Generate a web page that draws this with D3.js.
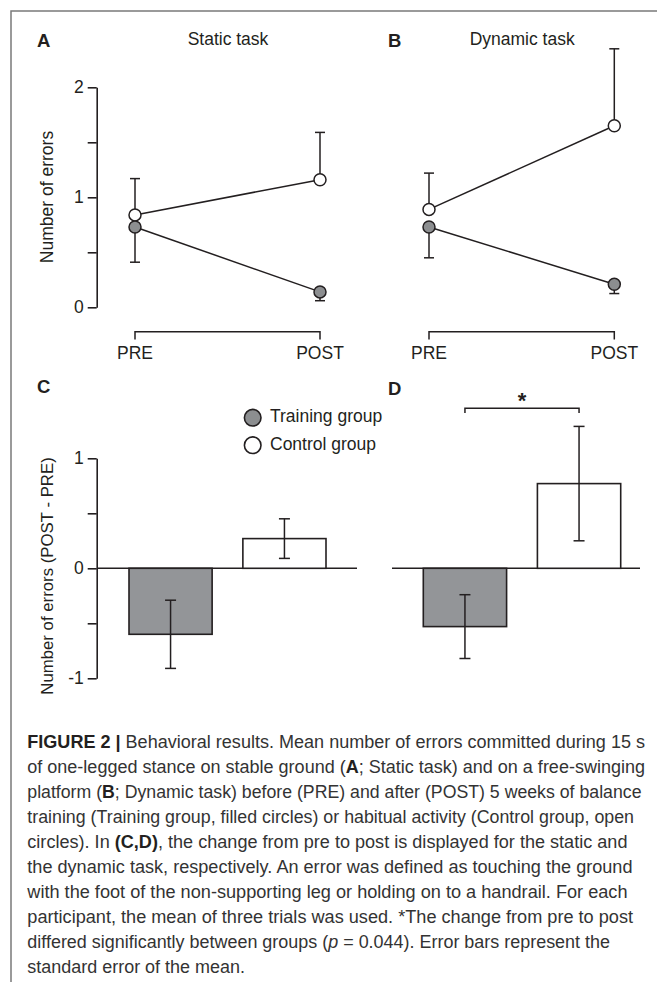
<!DOCTYPE html>
<html>
<head>
<meta charset="utf-8">
<script src="https://cdnjs.cloudflare.com/ajax/libs/d3/7.8.5/d3.min.js"></script>
<style>
    body { margin: 0; background: #fff; }
    svg text { font-family: "Liberation Sans", Arial, Helvetica, sans-serif; }
</style>
</head>
<body>
<div id="chart"></div>
<script>
var phases = ["PRE", "POST"];
var groups = ["Training group", "Control group"];

// Panel A, static task (mean and SE per phase)
var staticTraining = [0.73, 0.14];
var staticTrainingSE = [0.32, 0.08];
var staticControl = [0.84, 1.16];
var staticControlSE = [0.33, 0.43];

// Panel B, dynamic task
var dynamicTraining = [0.73, 0.21];
var dynamicTrainingSE = [0.28, 0.085];
var dynamicControl = [0.89, 1.65];
var dynamicControlSE = [0.33, 0.70];

// Panels C and D, change POST - PRE (training, control)
var changeStatic = [-0.60, 0.27];
var changeStaticSE = [0.31, 0.18];
var changeDynamic = [-0.53, 0.77];
var changeDynamicSE = [0.29, 0.52];

var topTicks = [0, 0.5, 1, 1.5, 2];
var bottomTicks = [-1, -0.5, 0, 0.5, 1];

var captionLines = [
    [["FIGURE 2 |", "b"], [" Behavioral results. Mean number of errors committed during 15 s", ""]],
    [["of one-legged stance on stable ground (", ""], ["A", "b"], ["; Static task) and on a free-swinging", ""]],
    [["platform (", ""], ["B", "b"], ["; Dynamic task) before (PRE) and after (POST) 5 weeks of balance", ""]],
    [["training (Training group, filled circles) or habitual activity (Control group, open", ""]],
    [["circles). In ", ""], ["(C,D)", "b"], [", the change from pre to post is displayed for the static and", ""]],
    [["the dynamic task, respectively. An error was defined as touching the ground", ""]],
    [["with the foot of the non-supporting leg or holding on to a handrail. For each", ""]],
    [["participant, the mean of three trials was used. *The change from pre to post", ""]],
    [["differed significantly between groups (", ""], ["p", "i"], [" = 0.044). Error bars represent the", ""]],
    [["standard error of the mean.", ""]]
];
var captionEnds = [645, 645, 641.5, 634, 627.5, 632.5, 627.5, 633, 610, 245];

var width = 657;
var height = 982;
var ink = "#231f20";
var gray = "#939598";
var dotGray = "#8c8e90";
var fs = 17.5;

var svg = d3.select("#chart").append("svg").attr("width", width).attr("height", height);

// frame lines at top and left
svg.append("path")
    .attr("d", "M11," + height + "V11H" + width)
    .attr("fill", "none").attr("stroke", "#7a7a7a").attr("stroke-width", 1.5);

function panelLetter(txt, x, y) {
    svg.append("text").attr("x", x).attr("y", y)
        .attr("font-size", 18.5).attr("font-weight", "bold").attr("fill", ink).text(txt);
}

function yAxis(scale, ticks, left) {
    var g = svg.append("g").attr("transform", "translate(" + left + ",0)")
        .call(d3.axisLeft(scale).tickValues(ticks)
            .tickFormat(function(d) { return Number.isInteger(d) ? d : ""; })
            .tickSize(9).tickSizeOuter(0).tickPadding(4));
    g.selectAll("path, line").attr("stroke", ink).attr("stroke-width", 1.6);
    g.selectAll("text").attr("font-size", fs).attr("fill", ink)
        .style("font-family", '"Liberation Sans", Arial, sans-serif');
}

function yLabel(txt, cx, cy, size) {
    svg.append("text")
        .attr("transform", "translate(" + cx + "," + cy + ") rotate(-90)")
        .attr("text-anchor", "middle").attr("font-size", size).attr("fill", ink)
        .text(txt);
}

// line plot panel (A, B)
var yTop = d3.scaleLinear().domain([0, 2]).range([307.3, 87.3]);

function linePanel(x0, x1, title, training, trainingSE, control, controlSE) {
    var x = d3.scalePoint().domain(phases).range([x0, x1]);

    svg.append("text").attr("x", (x0 + x1) / 2 + 0.5).attr("y", 45)
        .attr("text-anchor", "middle").attr("font-size", fs).attr("fill", ink).text(title);

    var series = [
        {v: control, se: controlSE, dir: 1, fill: "#fff"},
        {v: training, se: trainingSE, dir: -1, fill: dotGray}
    ];

    series.forEach(function(s) {
        var g = svg.append("g");
        // one-sided error bars
        phases.forEach(function(p, i) {
            var yc = yTop(s.v[i]);
            var ye = yTop(s.v[i] + s.dir * s.se[i]);
            g.append("line").attr("x1", x(p)).attr("x2", x(p)).attr("y1", yc).attr("y2", ye)
                .attr("stroke", ink).attr("stroke-width", 1.5);
            g.append("line").attr("x1", x(p) - 5).attr("x2", x(p) + 5).attr("y1", ye).attr("y2", ye)
                .attr("stroke", ink).attr("stroke-width", 1.5);
        });
        g.append("path")
            .datum(s.v)
            .attr("d", d3.line().x(function(d, i) { return x(phases[i]); }).y(function(d) { return yTop(d); }))
            .attr("fill", "none").attr("stroke", ink).attr("stroke-width", 1.5);
    });

    series.forEach(function(s) {
        svg.append("g").selectAll("circle").data(s.v).enter().append("circle")
            .attr("cx", function(d, i) { return x(phases[i]); })
            .attr("cy", function(d) { return yTop(d); })
            .attr("r", 6)
            .attr("fill", s.fill).attr("stroke", ink).attr("stroke-width", 1.5);
    });

    // bracket style x axis
    svg.append("path")
        .attr("d", "M" + x(phases[0]) + ",339.5V331.7H" + x(phases[1]) + "V339.5")
        .attr("fill", "none").attr("stroke", ink).attr("stroke-width", 1.5);
    phases.forEach(function(p) {
        svg.append("text").attr("x", x(p)).attr("y", 359)
            .attr("text-anchor", "middle").attr("font-size", fs).attr("fill", ink).text(p);
    });
}

// bar panel (C, D)
var yBottom = d3.scaleLinear().domain([-1, 1]).range([678.3, 458.3]);

function barPanel(x0, x1, zero0, zero1, values, se) {
    var x = d3.scaleBand().domain(groups).range([x0, x1]).paddingInner(0.27).paddingOuter(0);

    svg.append("line").attr("x1", zero0).attr("x2", zero1)
        .attr("y1", yBottom(0)).attr("y2", yBottom(0))
        .attr("stroke", ink).attr("stroke-width", 1.6);

    svg.append("g").selectAll("rect").data(values).enter().append("rect")
        .attr("x", function(d, i) { return x(groups[i]); })
        .attr("width", x.bandwidth())
        .attr("y", function(d) { return yBottom(Math.max(0, d)); })
        .attr("height", function(d) { return Math.abs(yBottom(d) - yBottom(0)); })
        .attr("fill", function(d, i) { return i === 0 ? gray : "#fff"; })
        .attr("stroke", ink).attr("stroke-width", 1.6);

    values.forEach(function(v, i) {
        var cx = x(groups[i]) + x.bandwidth() / 2;
        var y1 = yBottom(v + se[i]);
        var y2 = yBottom(v - se[i]);
        svg.append("line").attr("x1", cx).attr("x2", cx).attr("y1", y1).attr("y2", y2)
            .attr("stroke", ink).attr("stroke-width", 1.5);
        [y1, y2].forEach(function(yy) {
            svg.append("line").attr("x1", cx - 5.5).attr("x2", cx + 5.5).attr("y1", yy).attr("y2", yy)
                .attr("stroke", ink).attr("stroke-width", 1.5);
        });
    });
    return x;
}

panelLetter("A", 37, 47);
panelLetter("B", 388, 47);
yAxis(yTop, topTicks, 96.7);
yLabel("Number of errors", 53, 197, fs);
linePanel(135, 320, "Static task", staticTraining, staticTrainingSE, staticControl, staticControlSE);
linePanel(429, 614.3, "Dynamic task", dynamicTraining, dynamicTrainingSE, dynamicControl, dynamicControlSE);

panelLetter("C", 37, 393);
panelLetter("D", 388, 395);
yAxis(yBottom, bottomTicks, 96.7);
yLabel("Number of errors (POST - PRE)", 53, 576, 16.8);
barPanel(129, 326, 97, 357, changeStatic, changeStaticSE);
var xd = barPanel(423.3, 620.7, 392, 640, changeDynamic, changeDynamicSE);

// significance bracket in D
var s0 = xd(groups[0]) + xd.bandwidth() / 2;
var s1 = xd(groups[1]) + xd.bandwidth() / 2;
svg.append("path")
    .attr("d", "M" + s0 + ",413V408.3H" + s1 + "V413")
    .attr("fill", "none").attr("stroke", ink).attr("stroke-width", 1.5);
svg.append("text").attr("x", (s0 + s1) / 2).attr("y", 408)
    .attr("text-anchor", "middle").attr("font-size", 22).attr("font-weight", "bold")
    .attr("fill", ink).text("*");

// legend
var legend = svg.append("g");
groups.forEach(function(gname, i) {
    var ly = 417.7 + i * 27.5;
    legend.append("circle").attr("cx", 252.7).attr("cy", ly).attr("r", 8.3)
        .attr("fill", i === 0 ? dotGray : "#fff").attr("stroke", ink).attr("stroke-width", 1.6);
    legend.append("text").attr("x", 270).attr("y", ly + 4.5)
        .attr("font-size", fs).attr("fill", ink).text(gname);
});

// caption
var cap = svg.append("g");
captionLines.forEach(function(line, i) {
    var t = cap.append("text")
        .attr("x", 27.3).attr("y", 747.7 + i * 25.07)
        .attr("font-size", 17.5).attr("fill", "#333")
        .attr("textLength", captionEnds[i] - 27.3)
        .attr("lengthAdjust", "spacingAndGlyphs");
    line.forEach(function(seg) {
        var sp = t.append("tspan").text(seg[0]);
        if (seg[1] === "b") sp.attr("font-weight", "bold").attr("fill", "#231f20");
        if (seg[1] === "i") sp.attr("font-style", "italic");
    });
});
</script>
</body>
</html>
